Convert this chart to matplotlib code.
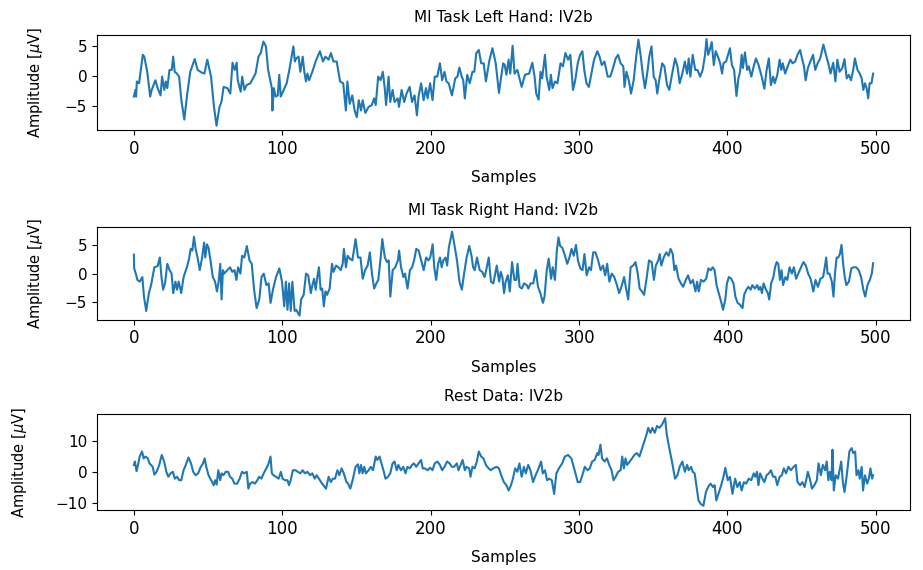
import matplotlib
matplotlib.use("Agg")
import matplotlib.pyplot as plt

# ---- data (sample index, amplitude in uV) ----
left_x = [0, 1, 1.5, 2, 3.5, 6, 7, 9, 11, 12, 14.5, 16, 18, 19, 20.5, 21.5, 22.5, 24, 25.5, 26.5,
          27.5, 29, 30.5, 32, 34, 36, 38, 41, 43, 45.5, 47.5, 49.5, 52, 54, 55.7, 57.7, 59, 60.5,
          63, 65, 66.5, 68, 69.3, 70, 72, 73, 74.5, 76, 78.5, 82, 84, 85.5, 87.3, 89, 90.5, 93,
          93.4, 94.3, 95.6, 97, 98, 99, 101, 103, 105, 107.5, 108.5, 109.4, 111, 112.2, 113.8,
          114.9, 116, 117, 118.1, 120.3, 122.5, 125.4, 127.5, 129.1, 131.3, 132.8, 134.5, 136.7,
          139, 141.1, 142.9, 143.9, 145.5, 147.2, 148.8, 150.3, 151.6, 153.1, 154.2, 156, 158.2,
          160.4, 161.9, 163, 164.7, 166.3, 167.8, 169.1, 170, 171.7, 172.8, 174.4, 175.7, 177.9,
          178.7, 180.5, 182.2, 183.8, 185.9, 187.5, 189.2, 190.8, 191.9, 193.6, 195.3, 196.9, 198,
          199.7, 201.3, 202.8, 204.5, 206.3, 207.8, 209.4, 210.7, 212.2, 214.4, 216.6, 218.1,
          219.4, 221, 222, 223.1, 224.7, 226.4, 228.2, 229.5, 230.8, 232.5, 234.1, 235.8, 237.3,
          239.5, 241.7, 243.9, 246.1, 247.6, 248.9, 250, 251.1, 252.6, 253.7, 255.3, 256.6, 258.5,
          261.4, 263.6, 266.4, 268.6, 270.1, 271.2, 272.8, 274.1, 275.2, 277.1, 278.2, 280, 281.1,
          282.2, 283.9, 285.5, 287.6, 289.2, 290.9, 292.7, 294.2, 296, 297.5, 299.2, 300.8, 302.3,
          303.6, 305.1, 306.7, 308.4, 310.2, 312.4, 313.9, 315.4, 317.2, 319.4, 321.1, 322.6,
          324.8, 326.4, 328.1, 329.9, 330.7, 332, 333.6, 335.1, 336.9, 338.6, 340.1, 341.7, 343,
          344.5, 346, 347.4, 348.9, 350.4, 351.7, 352.8, 354.3, 356.1, 357.6, 359.4, 360.9, 362.7,
          364.8, 366.4, 367.9, 369.7, 371.4, 372.9, 374, 375.1, 376.7, 378.4, 379.9, 381.7, 383.4,
          385, 386, 387.1, 388.2, 389.5, 390.9, 392.2, 393.7, 395.2, 396.5, 397.4, 399.2, 401.8,
          403.1, 404.6, 406.2, 407.5, 408.6, 409.7, 410.5, 411.9, 413.4, 414.5, 416.2, 417.8,
          419.3, 421.1, 423.2, 425, 426.5, 428, 429.4, 430.9, 432, 433.7, 435.3, 436.4, 437.4, 439,
          440.7, 442.5, 444, 445.8, 447.3, 449.1, 450.1, 451.7, 452.8, 454.3, 456, 457.8, 459.3,
          460.9, 462.6, 464.8, 466.5, 468.1, 469.6, 471.4, 472.9, 474.2, 475.7, 477.5, 479, 480.5,
          481.9, 483.4, 484.9, 486, 487.8, 489.3, 490.6, 491.7, 492.8, 493.9, 495, 495.9, 497.2,
          498.3]
left_y = [-3.4, -2.3, -3.4, -0.9, -1.2, 3.5, 3.2, 0.7, -3.4, -2.3, -0.7, -2.0, -3.2, -0.1, -2.3,
          -0.9, -2.0, 1.0, 1.0, 3.2, 0.7, 0.4, -0.1, -4.0, -7.2, -2.9, 0.7, 2.8, 1.0, 0.6, 0.4, 2.7,
          -0.1, -5.1, -8.2, -5.1, -4.3, -1.8, -2.0, -2.9, 2.2, 1.0, 2.2, -0.7, -2.6, -0.1, -2.3,
          -1.5, -1.2, 0.4, 3.2, 3.8, 5.7, 4.9, 1.0, -2.0, -5.7, -2.0, -3.4, -3.2, 0.2, -3.4, -2.3,
          -1.2, 1.3, 4.9, 2.4, 2.9, 3.2, 0.7, 3.2, 0.7, -0.9, 0.4, -0.7, 0.7, 2.4, 4.1, 2.4, 3.2,
          2.7, 3.8, 2.4, 2.4, -0.9, -1.2, -5.7, -0.9, -4.6, -3.2, -5.7, -6.8, -4.0, -5.7, -4.0,
          -6.1, -5.1, -4.8, -3.7, -4.8, -0.1, -0.7, 0.7, -2.0, -4.8, -0.1, -4.3, -2.3, -4.3, -3.7,
          -5.1, -2.3, -4.3, -2.9, -1.8, -4.3, -3.2, -6.5, -3.4, -1.2, -4.0, -2.0, -3.7, -1.2, -4.0,
          -0.1, -0.1, 2.1, -0.7, 0.7, -0.9, -1.2, -3.2, -0.4, -0.1, 1.4, -0.1, -0.7, -3.7, 0.2,
          -1.2, 0.7, 0.7, 3.8, 4.3, 2.1, 2.1, -0.9, 2.4, 4.6, 2.1, -2.8, -0.1, 2.1, 1.8, 0.2, 2.7,
          0.4, 5.0, 0.4, 1.0, -1.8, 0.2, 0.4, 2.2, -0.1, -2.9, -3.9, 0.7, -0.4, 3.5, -0.1, -2.3,
          0.2, -2.0, -0.9, -1.2, 2.1, 1.6, 3.8, 2.7, 3.5, -2.3, -0.7, 2.1, 3.5, 4.1, 1.0, -1.2,
          -1.8, 0.4, 2.7, 4.1, 3.2, 1.8, 2.4, -0.1, -0.1, 1.0, 2.9, 3.5, 2.1, 1.6, -1.8, 0.7,
          -0.7, -2.9, -0.7, 3.2, 6.0, 3.2, 0.4, -2.0, 0.4, 3.2, 4.9, -0.1, -0.7, -2.9, -0.4, 2.1,
          1.6, -1.5, -2.3, 0.2, 2.9, 1.6, -1.2, 0.4, 2.4, 0.4, 2.9, -0.1, 3.5, 1.0, 1.0, -0.1, 1.0,
          3.5, 6.1, 3.5, 4.3, 5.6, 1.8, 4.1, 3.2, 2.1, 0.4, 2.1, 2.4, 4.6, 1.8, 1.0, -3.3, -0.4,
          0.7, 3.5, 1.3, 3.9, 1.0, 1.6, -0.1, 1.6, 2.9, 1.8, -0.1, -2.1, 1.0, 2.9, -1.5, -0.1,
          -1.2, 0.2, 2.7, 1.0, 2.1, 0.4, 1.6, 2.7, 2.1, 2.4, 3.5, 4.3, 3.2, 1.6, -0.7, 1.3, 2.4,
          3.5, 1.0, 2.1, 2.9, 5.2, 3.5, 2.1, 0.4, 2.2, -0.9, 2.7, 0.7, 1.3, 2.8, -0.4, 0.2, -0.7,
          1.0, 2.9, 1.0, 0.4, -0.4, -2.3, -1.2, -2.0, -3.7, -1.2, -1.2, 0.4]

right_x = [0, 0.2, 1.3, 2.4, 3.9, 5.7, 6.8, 8.3, 10.1, 11.6, 13.8, 16, 17.5, 18.6, 19.7, 21, 22.5,
           24.1, 25.4, 26.5, 28, 29.1, 30.2, 31.9, 33.5, 35.7, 37.2, 38.3, 39.4, 40.5, 41.6, 42.9,
           44.4, 46, 47.3, 48.1, 49.2, 50.3, 51.6, 53.2, 54.7, 56, 57.1, 58.2, 59.1, 60, 60.8, 63,
           64.8, 66.3, 67.8, 69.1, 70.2, 71.8, 72.9, 74.4, 76.1, 77.9, 79.4, 81, 82.7, 84.5, 86,
           87.5, 89.3, 90.8, 92.1, 93.7, 95.8, 98, 99.8, 101.3, 102.4, 103.5, 104.6, 105.7, 106.8,
           108.3, 109.4, 111.6, 112.7, 114.4, 116, 117.5, 119.2, 120.3, 121.4, 122.5, 123.6,
           124.7, 125.8, 126.9, 128, 129.1, 130.2, 131.9, 133.5, 134.5, 136.3, 137.8, 139.4,
           140.7, 141.5, 142.9, 144, 145.5, 147.2, 149.4, 151, 152.7, 154.2, 155.8, 157.5, 159,
           160.4, 161.9, 163.4, 164.7, 166.3, 167.4, 169.1, 170.6, 171.7, 172.8, 174.4, 176.1,
           177.9, 178.7, 180, 181.6, 182.7, 184.4, 186, 187.5, 188.8, 190.3, 191.9, 193.6, 195.3,
           196.9, 198.4, 199.7, 201.3, 202.4, 203.7, 205, 206.3, 207.4, 208.5, 210, 211.1, 212.2,
           214.4, 215.9, 217.7, 219.4, 221, 222.5, 224.2, 226, 227.5, 228.6, 229.7, 231.2, 233,
           234.7, 236.3, 237.8, 239.1, 240.6, 242.2, 244.5, 246.1, 247.2, 248.3, 249.4, 250.5,
           252, 253.3, 254.8, 256.4, 257.7, 258.5, 259.9, 261.4, 262.9, 264.7, 265.8, 267.3,
           269.1, 270.8, 272.3, 273.9, 275.6, 276.7, 278.2, 279.5, 281.1, 282.2, 283.7, 285,
           286.1, 287.2, 288.7, 290.5, 292, 293.5, 294.9, 296.4, 297.9, 299.2, 300.8, 302.3,
           303.6, 305.1, 306.7, 308, 309.5, 311, 312.8, 314.5, 316.1, 317.6, 318.9, 320.4, 322,
           323.7, 325.5, 327, 328.5, 330.3, 331.8, 333.1, 334.7, 336.4, 338, 339.5, 340.8, 342.3,
           343.8, 345.6, 347.1, 348.9, 350.4, 351.7, 353.3, 354.3, 355.4, 357, 358.7, 360.3,
           361.6, 363.1, 364.2, 365.3, 367, 368.6, 370.1, 371.9, 373.4, 375.1, 376.7, 378.4,
           379.5, 380.6, 382.1, 383.9, 385.6, 387.1, 388.7, 390, 391.3, 392.6, 394.4, 395.9, 397,
           398.5, 399.6, 400.9, 402.5, 404, 405.3, 406.8, 408.4, 410.1, 411.2, 412.7, 414, 415.6,
           416.7, 418.4, 420, 421, 422.1, 423.2, 424.3, 425.9, 427.2, 428.1, 429.4, 430.9, 432,
           433.1, 434.2, 435.3, 436.4, 437.4, 439, 440.3, 441.8, 443.4, 444.7, 446.2, 447.7,
           449.5, 451.2, 452.8, 454.3, 456, 457.8, 459.3, 460.9, 462.6, 464.4, 465.2, 466.5,
           467.4, 468.7, 470.3, 471.4, 472.4, 473.5, 474.6, 475.7, 476.8, 477.9, 479, 480.1,
           481.8, 483.4, 484.9, 486.7, 488.4, 490, 491.5, 492.8, 494.3, 495.9, 497.2, 498.1]
right_y = [3.3, 0.9, 0.0, -1.1, -1.4, -0.6, -4.0, -6.5, -3.4, -2.0, 1.1, 1.3, 2.8, -0.6, -2.8,
           -1.7, 1.7, 0.6, 0.0, -3.4, -1.4, -2.8, -1.4, -3.4, -0.6, 1.1, 2.6, 4.3, 4.0, 6.4, 4.3,
           2.8, 0.6, 2.8, 5.4, 2.8, 5.1, 4.5, 2.3, -0.6, -1.4, -3.1, -1.4, 1.7, -4.5, 0.6, 0.0, 0.6,
           1.1, 0.3, 0.6, -1.1, 1.1, 0.0, 3.1, 2.8, 4.8, 2.3, 1.7, -2.8, -6.0, -4.5, -0.6, 0.0,
           -2.0, -1.7, -5.1, -2.8, -0.6, 0.9, -1.4, -5.7, -1.4, -6.3, -1.7, -6.5, -1.4, -6.5, -6.3,
           -7.3, -4.5, -3.7, 0.0, -0.3, -3.4, -2.0, -0.9, -2.8, -0.6, 1.1, -2.8, -2.6, -5.7, -3.1,
           -3.7, -2.6, 1.7, 0.3, 1.4, 1.1, 0.6, 1.7, 4.3, 1.1, 3.1, 2.6, 2.3, 6.0, 2.8, 2.8, -0.9,
           0.6, 1.4, 3.7, 0.0, -2.6, -1.7, -1.1, 2.8, 6.0, 2.8, 2.0, 2.3, -4.0, 0.6, 1.1, 2.3, 4.0,
           1.1, -0.6, 0.0, -2.6, 0.6, 1.1, 2.3, 4.3, 4.0, 2.3, 0.6, 2.8, 2.3, 2.8, 5.1, 1.1, -1.1,
           1.7, 2.8, 1.1, 2.3, 2.8, 1.4, 4.5, 7.3, 5.1, 2.3, -1.4, -2.8, 0.0, 2.8, 4.8, 3.1, 1.1,
           0.6, 2.8, 0.6, 0.3, -0.6, 1.1, 2.8, -1.4, -1.7, 1.4, -1.4, 0.3, -0.6, -3.4, -1.4, -0.3,
           -3.1, 2.0, -1.1, -1.1, 1.7, -2.3, -2.6, -1.7, -2.0, -2.6, -1.7, -1.7, 0.6, -2.3, -3.4,
           -5.1, -4.0, 0.6, 2.6, -0.9, 1.1, -1.1, 4.0, 6.3, 4.8, 4.5, 3.1, 1.7, 2.8, 4.3, 3.1, 5.0,
           2.3, 0.9, 0.6, 3.4, -0.3, 1.1, 0.6, 3.7, 3.7, 2.3, 0.6, 1.4, -0.3, 1.7, -1.4, 0.0, -0.6,
           -2.0, -3.4, -2.3, -0.6, -2.8, -4.5, 1.1, 1.4, 2.0, 0.0, -2.6, -3.1, -3.7, -0.6, 2.3, 2.0,
           -1.1, 1.4, 2.3, 3.4, 1.4, 2.8, 3.7, 3.1, 4.3, 3.4, 0.6, 1.4, -0.9, -1.7, -2.3, -1.1,
           -0.3, -1.7, -1.1, -3.1, -1.4, -3.1, -1.1, -1.4, -0.9, 0.9, 0.6, 1.1, 0.6, -2.0, -3.7,
           -5.1, -6.3, -4.5, -1.7, -0.6, -0.9, -1.7, -4.0, -5.1, -5.4, -6.0, -3.7, -2.8, -2.3,
           -2.8, -2.0, -2.6, -2.0, -2.8, -2.3, -3.4, -1.7, -2.8, -3.4, -4.5, -1.7, -0.6, 1.1, 2.0,
           1.7, -1.1, 0.6, -2.0, -0.6, -1.1, 1.1, 0.0, 1.1, -0.9, 0.0, 1.1, 2.0, 1.4, 0.0, -0.9,
           -3.1, -1.1, -2.3, -0.9, -0.6, 0.6, 2.8, 0.0, 0.0, -1.4, -4.0, 0.0, 2.8, 2.8, 3.4, 5.0,
           1.7, -0.6, -2.0, -1.4, 0.9, 1.1, 1.1, 0.6, -0.6, -2.8, -4.0, -2.0, -1.1, 0.0, 1.8]

rest_x = [0, 0.7, 1.8, 2.8, 3.9, 5.5, 6.6, 7.9, 9.4, 10.5, 11.6, 12.7, 13.8, 15.3, 17.1, 18.8,
          20.4, 21.9, 23.2, 24.7, 26.3, 27.6, 29.1, 30.6, 31.9, 33.5, 35, 36.8, 38.5, 40, 41.6,
          43.3, 45.1, 46.6, 47.7, 48.8, 50.3, 52.1, 53.8, 54.7, 55.8, 56.9, 58.2, 59.1, 60.4, 61.9,
          63.5, 64.8, 66.3, 67.8, 69.6, 71.3, 72.9, 74.4, 76.1, 77.2, 78.3, 80.1, 81.6, 83.2, 84.5,
          86, 87.5, 89.3, 90.8, 92.1, 93, 94.1, 95.8, 97.6, 99.1, 100.2, 101.9, 103.5, 104.6, 105.7,
          107.2, 109, 110.5, 112.2, 113.8, 115.3, 117, 118.8, 120.3, 121.9, 123.2, 124.7, 126.9,
          129.5, 131.3, 132.8, 134.1, 135.6, 137.2, 138.5, 140, 141.5, 143.3, 144.4, 145.9, 147.7,
          149.4, 151, 152, 153.1, 154.2, 155.3, 156.4, 158.2, 159.7, 161.2, 163, 164.1, 165.6,
          166.9, 168.5, 169.6, 171.3, 172.8, 174.4, 175.7, 177.2, 178.3, 180, 181.6, 183.1, 184.4,
          186, 187.5, 188.8, 190.3, 191.9, 193.6, 194.7, 196.2, 198, 199.7, 201.3, 202.8, 204.6,
          206.3, 207.8, 209.4, 211.1, 212.8, 214.4, 215.9, 217.7, 218.8, 220.3, 221.6, 223.1,
          224.2, 226, 226.9, 228.2, 229.7, 231.2, 232.5, 234.1, 235.6, 237.3, 239.1, 240.6, 242.2,
          244.5, 246.1, 247.6, 249.4, 251.1, 252.6, 254.2, 255.5, 257, 258.5, 259.9, 261.4, 262.9,
          264.2, 265.8, 267.3, 269.1, 270.8, 272.3, 274.5, 275.6, 277.1, 278.5, 280, 281.7, 283.3,
          284.8, 286.5, 288.7, 290.5, 292.7, 294.9, 297.1, 299.2, 300.8, 302.3, 304, 305.8, 307.3,
          308.9, 310.6, 312.4, 313.2, 314.5, 315.6, 317.2, 318.9, 320.4, 322, 323.3, 324.8, 326.4,
          328.1, 329.2, 330.3, 331.4, 332.5, 334.2, 335.8, 337.3, 339, 340.8, 342.3, 343.8, 345.6,
          346.7, 348.2, 349.5, 351.1, 352.6, 354.3, 356.1, 358.1, 359.2, 360.9, 362.7, 364.8,
          366.4, 367.9, 369.7, 371.4, 372.9, 374, 375.6, 376.7, 378, 379.5, 380.6, 382.1, 383.9,
          385.6, 387.1, 388.7, 390.4, 391.5, 392.6, 394.4, 395.9, 397.4, 398.7, 400.3, 401.8,
          403.5, 405.3, 406.8, 408.4, 409.7, 411.2, 412.7, 414.5, 416.2, 417.8, 418.9, 420, 421,
          422.1, 423.7, 425, 426.5, 428, 429.4, 430.9, 432.4, 433.7, 435.3, 436.8, 438.1, 439.6,
          441.2, 442.9, 444.7, 446.2, 447.3, 449.1, 450.6, 452.1, 453.4, 454.3, 455.6, 457.1,
          458.7, 460.4, 461.5, 463.1, 464.4, 466, 467, 468.1, 469.2, 470.3, 470.9, 471.8, 473.1,
          474.6, 475.7, 476.8, 477.9, 479, 480.1, 481.2, 482.3, 483.8, 484.9, 486.2, 487.1, 488.4,
          489.3, 490.6, 491.5, 492.8, 494.3, 495.4, 496.5, 497.6, 498.3]
rest_y = [2.2, 3.3, 0.2, 2.2, 4.9, 6.5, 4.3, 4.9, 4.3, 2.7, 2.2, 1.6, -0.9, 0.0, 2.2, 5.4, 3.3,
          0.0, -1.6, -0.5, 0.0, -2.2, -1.6, -2.7, -2.7, 0.5, 2.2, 4.6, 2.7, 0.0, -1.1, -0.5, 1.6,
          2.7, 4.3, 1.6, -1.1, -2.7, -4.3, -2.7, -4.1, 0.5, -2.7, -0.5, -1.1, 0.0, 0.0, -1.6, -2.2,
          -3.8, -3.8, -2.2, 0.0, -0.5, 0.0, -5.4, -3.8, -3.3, -3.8, -2.7, -1.6, -2.2, -0.5, 1.1,
          2.7, 4.9, -0.5, -1.1, -1.6, -2.2, 0.0, -2.2, -2.7, -2.7, -4.3, -2.7, 0.5, 0.5, 0.0, -0.5,
          0.5, -0.5, 0.0, -1.1, -0.5, -2.2, -1.1, -2.2, -3.8, -5.4, -1.6, -3.3, -2.2, -2.2, 0.5,
          -1.1, 1.1, -0.5, -3.3, -3.8, -5.4, -2.2, 1.6, 2.4, -0.5, 2.2, -0.5, 1.6, -0.5, 0.5, 1.6,
          0.5, 4.9, 3.8, 4.9, 2.7, 0.0, -2.2, -1.6, -0.5, 2.7, 3.3, 0.5, 2.2, 0.5, 1.6, -0.5, 1.6,
          1.1, 2.2, 2.7, 1.6, 2.7, 3.8, 1.1, 1.1, 0.5, 1.3, 0.5, 2.7, 3.3, 2.2, 0.5, 1.6, 3.3, 2.7,
          1.6, 1.6, 2.7, 0.5, 2.2, 3.8, 0.5, 1.6, 1.1, -1.6, 1.6, 1.1, 3.3, 6.5, 4.9, 4.3, 2.2, 1.1,
          0.5, 1.1, 1.6, 1.1, -1.1, -3.3, -4.3, -6.0, -4.3, -2.2, 1.1, 0.0, 2.7, -1.6, 1.6, -0.5,
          2.2, 0.5, -3.3, -1.1, 0.5, 3.3, -0.5, 0.5, -2.7, -2.2, -2.7, -7.1, -0.5, 1.1, 2.7, 4.9,
          5.4, 4.3, 0.5, -3.3, -3.3, -1.1, 1.6, 0.5, 1.1, 3.3, 3.8, 6.0, 5.4, 8.7, 4.3, 3.3, 4.3,
          2.2, 0.5, -2.7, -1.6, 0.0, 0.5, 4.9, 1.1, 4.3, 2.2, 3.3, 4.3, 5.4, 6.0, 4.9, 7.1, 9.2,
          12.0, 14.1, 12.5, 14.1, 12.5, 14.7, 14.1, 15.2, 17.2, 12.0, 7.6, 3.3, -2.2, -1.1, 1.6,
          3.3, 0.0, 2.2, 0.5, 1.6, 0.0, -0.5, -5.4, -9.2, -10.3, -10.9, -6.5, -4.9, -3.8, -4.9,
          -4.3, -9.2, -6.5, -4.3, -1.6, 1.3, -2.7, -1.6, -7.1, -2.2, -4.9, -3.3, -6.0, -3.3, -3.8,
          -2.2, -2.7, -0.5, -1.6, 0.0, -4.3, -0.5, -2.2, -3.3, -1.1, -0.5, 0.5, -1.6, -1.6, -4.3,
          -1.6, -1.1, 1.1, -0.5, 1.6, 0.5, 1.6, 2.2, -3.3, -4.3, -3.3, -4.9, -2.2, 0.0, -2.2, -5.4,
          -4.3, -2.7, 2.7, -1.1, 2.2, 0.5, 3.3, -2.7, 0.0, -2.7, 7.1, -6.0, -1.1, -2.2, 0.5, 3.3,
          -3.3, -6.5, -2.7, 1.6, 6.5, 7.6, 6.0, 6.5, -1.1, 0.5, -2.2, 1.6, -6.0, -1.1, -3.8, -2.2,
          1.1, -2.2, -1.1]

titles = ["MI Task Left Hand: IV2b", "MI Task Right Hand: IV2b", "Rest Data: IV2b"]
series = [(left_x, left_y), (right_x, right_y), (rest_x, rest_y)]

fig = plt.figure(figsize=(9.23, 5.7), dpi=100)

# axes boxes (left, bottom, width, height) in figure fractions
boxes = [(0.105, 0.772, 0.881, 0.167),
         (0.105, 0.439, 0.881, 0.162),
         (0.105, 0.105, 0.881, 0.169)]
ypads = [14, 14, 19]

for (xs, ys), title, box, ypad in zip(series, titles, boxes, ypads):
    ax = fig.add_axes(box)
    ax.plot(xs, ys, color="#1f77b4", linewidth=1.5)
    ax.set_title(title, fontsize=11, pad=9)
    ax.set_xlabel("Samples", fontsize=11, labelpad=9)
    ax.set_ylabel(r"Amplitude [$\mu$V]", fontsize=10.5, labelpad=ypad)
    ax.set_xticks([0, 100, 200, 300, 400, 500])
    ax.tick_params(axis="x", labelsize=12)
    ax.tick_params(axis="y", labelsize=11)

fig.savefig("out.png", dpi=100)
